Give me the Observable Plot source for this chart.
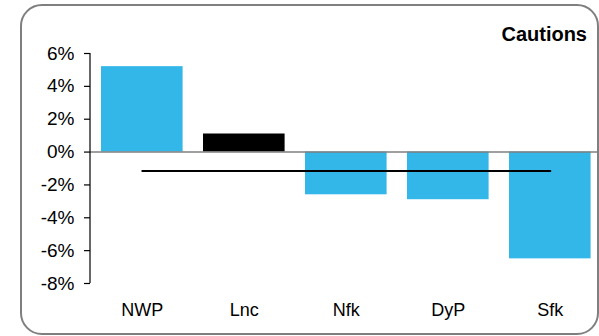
<!DOCTYPE html>
<html>
<head>
<meta charset="utf-8">
<script src="https://cdn.jsdelivr.net/npm/d3@7"></script>
<script src="https://cdn.jsdelivr.net/npm/@observablehq/plot@0.6"></script>
<style>
  html, body { margin: 0; padding: 0; background: #fff; }
  #wrap { position: relative; width: 599px; height: 336px; overflow: hidden; font-family: "Liberation Sans", Arial, sans-serif; }
  #border { position: absolute; left: 20px; top: 4px; width: 579px; height: 331px; box-sizing: border-box; border: 2px solid #7f7f7f; border-radius: 22px; pointer-events: none; }
  #chart { position: absolute; left: 0; top: 0; }
</style>
</head>
<body>
<div id="wrap">
  <div id="chart"></div>
  <div id="border"></div>
</div>
<script>
const categories = ["NWP", "Lnc", "Nfk", "DyP", "Sfk"];
const values = [5.2, 1.1, -2.6, -2.9, -6.5];
const barColors = ["#33b7e8", "#000000", "#33b7e8", "#33b7e8", "#33b7e8"];
const averageLine = [-1.15, -1.15, -1.15, -1.15, -1.15];
const yTicks = [-8, -6, -4, -2, 0, 2, 4, 6];
const title = "Cautions";

const rows = categories.map((c, i) => ({cat: c, value: values[i], color: barColors[i], avg: averageLine[i]}));

// y axis line drawn with the plot's own y scale
function axisLine(index, scales, values, dimensions) {
  const ns = "http://www.w3.org/2000/svg";
  const line = document.createElementNS(ns, "line");
  const x = dimensions.marginLeft;
  line.setAttribute("x1", x);
  line.setAttribute("x2", x);
  line.setAttribute("y1", scales.y(yTicks[yTicks.length - 1]));
  line.setAttribute("y2", scales.y(yTicks[0]));
  line.setAttribute("stroke", "#000");
  line.setAttribute("stroke-width", 1.2);
  return line;
}

const chart = Plot.plot({
  width: 599,
  height: 336,
  marginTop: 53,
  marginBottom: 53,
  marginLeft: 90,
  marginRight: 0,
  style: {fontFamily: "'Liberation Sans', Arial, sans-serif", color: "#000", background: "transparent"},
  x: {domain: categories, range: [90.8, 600.8], paddingInner: 0.2, paddingOuter: 0.1, round: false, label: null},
  y: {domain: [-8, 6], label: null},
  marks: [
    Plot.barY(rows, {x: "cat", y: "value", fill: "color"}),
    Plot.ruleY([0], {stroke: "#7f7f7f", strokeWidth: 1.5}),
    Plot.lineY(rows, {x: "cat", y: "avg", stroke: "#000", strokeWidth: 2}),
    Plot.axisY({ticks: yTicks, tickFormat: d => d + "%", tickSize: 6, tickPadding: 10, fontSize: 19, stroke: "#000", strokeWidth: 1.2, strokeOpacity: 1}),
    axisLine,
    Plot.axisX({tickSize: 0, tickPadding: 20, fontSize: 18}),
    Plot.text([title], {frameAnchor: "top-right", lineAnchor: "middle", dx: -12.5, dy: -18.5, textAnchor: "end", fontWeight: "bold", fontSize: 20, fill: "#000"})
  ]
});
document.getElementById("chart").appendChild(chart);
</script>
</body>
</html>
